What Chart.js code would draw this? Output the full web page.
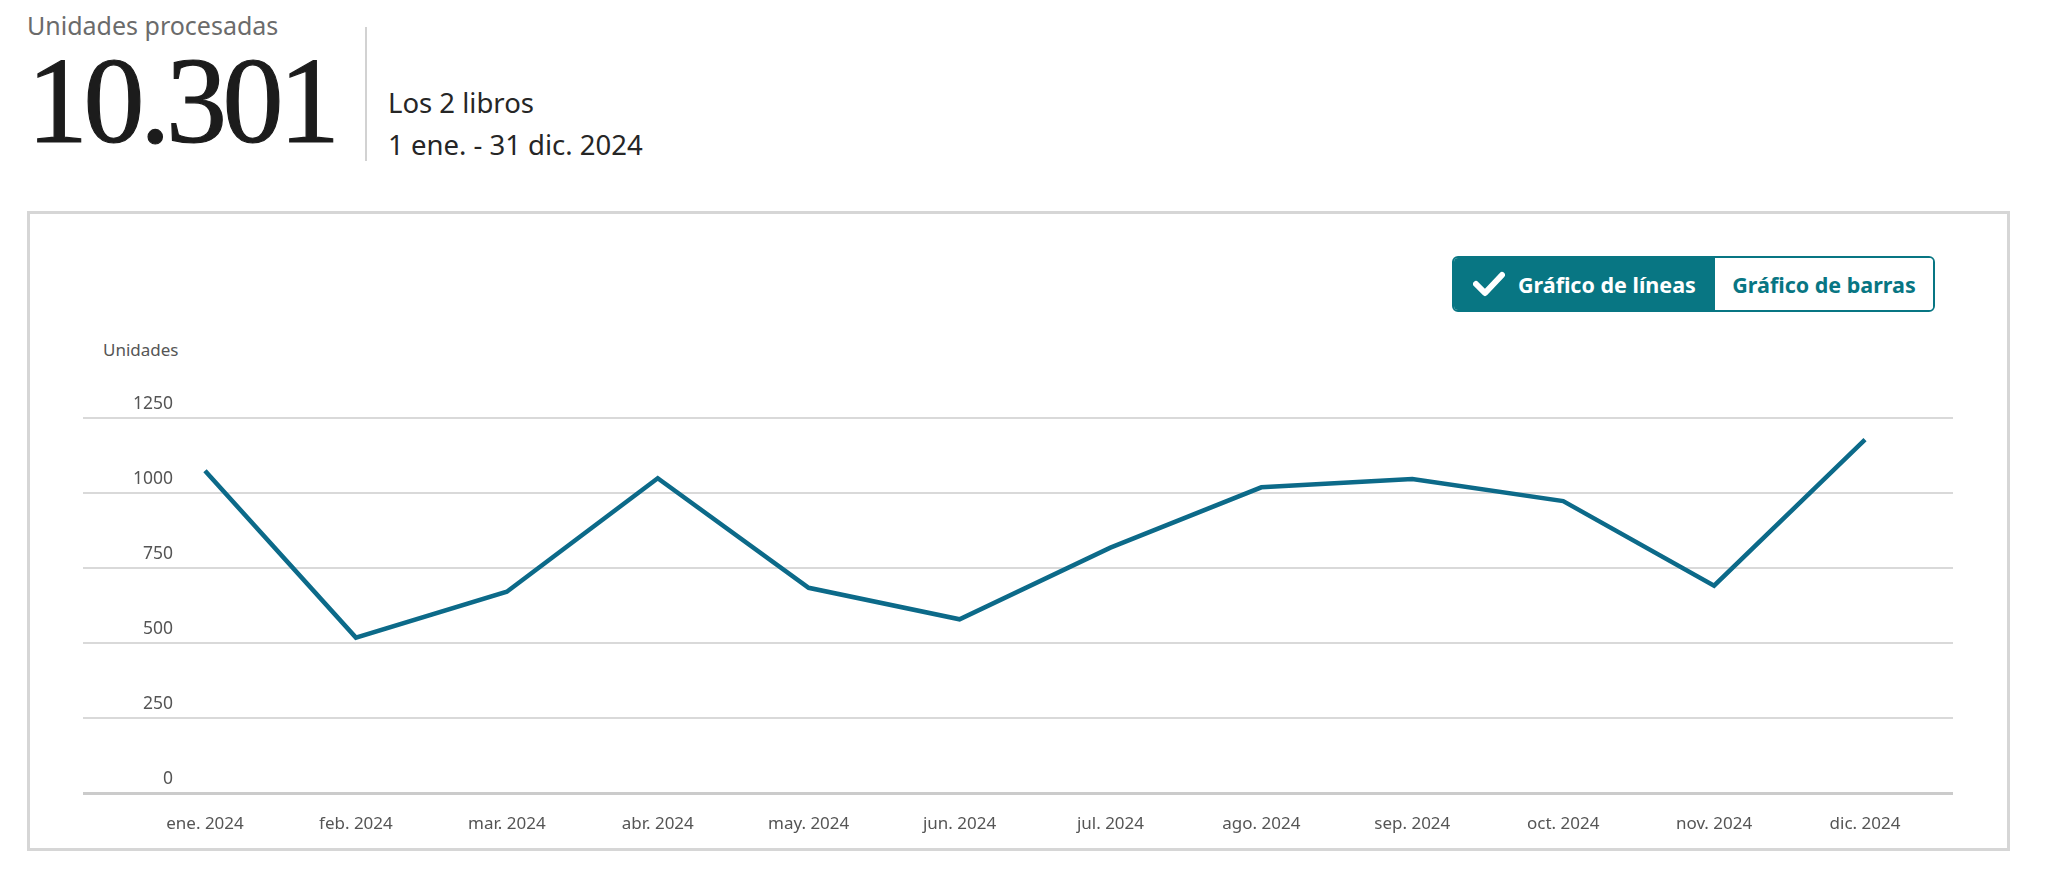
<!DOCTYPE html>
<html lang="es">
<head>
<meta charset="utf-8">
<title>Unidades procesadas</title>
<script src="https://cdn.jsdelivr.net/npm/chart.js@4.4.1/dist/chart.umd.min.js"></script>
<style>
  html, body { margin: 0; padding: 0; background: #fff; }
  body { width: 2048px; height: 887px; position: relative; overflow: hidden; font-family: "Noto Sans", sans-serif; }
  .abs { position: absolute; white-space: nowrap; line-height: 1; }
  #kpiLabel { left: 27px; top: 13px; font-size: 25px; color: #6b6b6b; }
  #kpiValue { left: 27px; top: 40px; font-family: "Liberation Serif", serif; font-size: 122px; letter-spacing: -4.5px; color: #1c1c1c; -webkit-text-stroke: 1.2px #1c1c1c; }
  #divider { position: absolute; left: 365px; top: 27px; width: 2px; height: 134px; background: #d2d2d2; }
  #books { left: 388px; top: 89px; font-size: 27.5px; color: #262626; }
  #range { left: 388px; top: 131px; font-size: 27.5px; color: #262626; }
  #card { position: absolute; left: 27px; top: 211px; width: 1983px; height: 640px; box-sizing: border-box; border: 3px solid #d6d6d6; }
  #toggle { position: absolute; left: 1452px; top: 256px; width: 483px; height: 56px; box-sizing: border-box; border: 2px solid #087683; border-radius: 6px; display: flex; overflow: hidden; }
  #toggle div { display: flex; align-items: center; font-weight: bold; font-size: 21.5px; }
  #btnLine { width: 261px; background: #087683; color: #fff; padding-left: 19px; box-sizing: border-box; }
  #btnLine svg { margin-right: 13px; }
  #btnBar { flex: 1; justify-content: center; color: #087683; background: #fff; }
  #yTitle { left: 103px; top: 341px; font-size: 17px; color: #555; }
  #chartBox { position: absolute; left: 0; top: 230px; width: 2048px; height: 620px; }
</style>
</head>
<body>
<div id="kpiLabel" class="abs">Unidades procesadas</div>
<div id="kpiValue" class="abs">10.301</div>
<div id="divider"></div>
<div id="books" class="abs">Los 2 libros</div>
<div id="range" class="abs">1 ene. - 31 dic. 2024</div>
<div id="card"></div>
<div id="toggle">
  <div id="btnLine"><svg width="32" height="26" viewBox="0 0 32 26"><path d="M3 13 L12 22 L29 4" fill="none" stroke="#fff" stroke-width="6" stroke-linecap="round" stroke-linejoin="round"/></svg>Gráfico de líneas</div>
  <div id="btnBar">Gráfico de barras</div>
</div>
<div id="yTitle" class="abs">Unidades</div>
<div id="chartBox"><canvas id="lineChart"></canvas></div>

<script>
// datos
const months = ['ene. 2024', 'feb. 2024', 'mar. 2024', 'abr. 2024', 'may. 2024', 'jun. 2024',
                'jul. 2024', 'ago. 2024', 'sep. 2024', 'oct. 2024', 'nov. 2024', 'dic. 2024'];
const units = [1074, 518, 671, 1049, 684, 579, 818, 1019, 1047, 973, 691, 1178];
const yMin = 0;
const yMax = 1250;
const yStep = 250;

const lineColor = '#0c6a89';
const gridColor = (c) => (c.tick && c.tick.value === 0 ? '#cbcbcb' : '#d9d9d9');
const gridWidth = (c) => (c.tick && c.tick.value === 0 ? 3 : 2);

const ctx = document.getElementById('lineChart').getContext('2d');
new Chart(ctx, {
  type: 'line',
  data: {
    labels: months,
    datasets: [{
      label: 'Unidades',
      data: units,
      borderColor: lineColor,
      borderWidth: 4.5,
      pointRadius: 0,
      pointHoverRadius: 0,
      tension: 0,
      fill: false
    }]
  },
  options: {
    responsive: true,
    maintainAspectRatio: false,
    animation: false,
    layout: { padding: { left: 83, right: 95, top: 188, bottom: 0 } },
    plugins: { legend: { display: false }, tooltip: { enabled: false } },
    scales: {
      x: {
        offset: false,
        grid: { display: false, drawTicks: false },
        border: { display: false },
        ticks: { autoSkip: false, maxRotation: 0, padding: 21, color: '#555', font: { family: 'Noto Sans', size: 17 } },
        afterFit: (scale) => { scale.height = 57; }
      },
      y: {
        position: 'left',
        min: yMin,
        max: yMax,
        grid: { color: gridColor, lineWidth: gridWidth, tickColor: gridColor, tickWidth: gridWidth, tickLength: 122, drawTicks: true },
        border: { display: false },
        ticks: {
          stepSize: yStep, padding: -90, labelOffset: -14, color: '#555',
          font: { family: 'Noto Sans', size: 17.5 },
          callback: (v) => String(v)
        },
        afterFit: (scale) => { scale.width = 122; }
      },
      y2: {
        position: 'right',
        min: yMin,
        max: yMax,
        grid: { drawOnChartArea: false, color: gridColor, lineWidth: gridWidth, tickColor: gridColor, tickWidth: gridWidth, tickLength: 88, drawTicks: true },
        border: { display: false },
        ticks: { stepSize: yStep, display: false },
        afterFit: (scale) => { scale.width = 88; }
      }
    }
  }
});
</script>
</body>
</html>
